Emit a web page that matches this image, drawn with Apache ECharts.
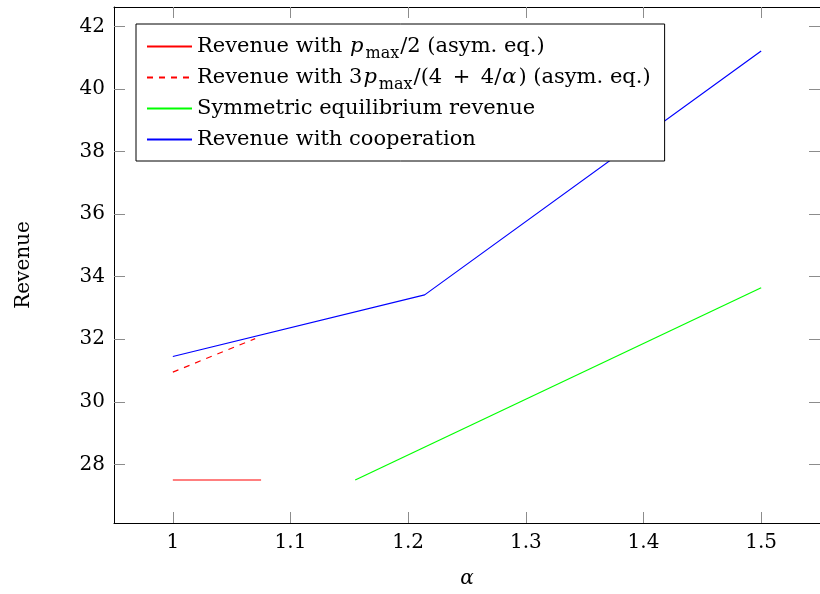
<!DOCTYPE html>
<html>
<head>
<meta charset="utf-8">
<script src="https://cdn.jsdelivr.net/npm/echarts@6/dist/echarts.min.js"></script>
<style>html,body{margin:0;padding:0;background:#fff;overflow:hidden;width:820px;height:594px}#c{width:820px;height:594px;overflow:hidden}</style>
</head>
<body>
<div id="c"></div>
<script>
// Data
const xTicks = [1, 1.1, 1.2, 1.3, 1.4, 1.5];
const yTicks = [28, 30, 32, 34, 36, 38, 40, 42];

const alphaHalf = [1, 1.075];
const revenueHalf = [27.5, 27.5];

const alphaThree = [1, 1.07];
const revenueThree = [30.95, 32.02];

const alphaSym = [1.155, 1.5];
const revenueSym = [27.5, 33.65];

const alphaCoop = [1, 1.214, 1.5];
const revenueCoop = [31.45, 33.42, 41.22];

const seriesNames = [
  'Revenue with pmax/2 (asym. eq.)',
  'Revenue with 3pmax/(4+4/alpha) (asym. eq.)',
  'Symmetric equilibrium revenue',
  'Revenue with cooperation'
];

const zip = (xs, ys) => xs.map((x, i) => [x, ys[i]]);

const FONT = 'DejaVu Serif';
const FS = 20;
const LFS = 21;

const legendRich = {
  n: { fontFamily: FONT, fontSize: LFS, color: '#000', lineHeight: 31 },
  it: { fontFamily: FONT, fontSize: LFS, fontStyle: 'italic', color: '#000', lineHeight: 31, padding: [0, 2, 0, 1] },
  sub: { fontFamily: FONT, fontSize: 16, color: '#000', lineHeight: 24, verticalAlign: 'bottom', padding: [0, 1, 0, 0] }
};

const legendText = {};
legendText[seriesNames[0]] = '{n|Revenue with }{it|p}{sub|max}{n|/2 (asym. eq.)}';
legendText[seriesNames[1]] = '{n|Revenue with 3}{it|p}{sub|max}{n|/(4\u2002+\u20024/}{it|α}{n|) (asym. eq.)}';
legendText[seriesNames[2]] = '{n|Symmetric equilibrium revenue}';
legendText[seriesNames[3]] = '{n|Revenue with cooperation}';

const chart = echarts.init(document.getElementById('c'), null, { renderer: 'canvas', width: 820, height: 594 });

const tickStyle = { show: true, inside: true, length: 11, lineStyle: { color: '#8c8c8c', width: 1 } };

const option = {
  animation: false,
  backgroundColor: '#fff',
  grid: { left: 114, right: -7, top: 7, bottom: 63, containLabel: false },
  xAxis: [
    {
      type: 'value', min: 0.95, max: 1.55, position: 'bottom',
      name: 'α', nameLocation: 'middle', nameGap: 46,
      nameTextStyle: { fontFamily: FONT, fontSize: FS, fontStyle: 'italic', color: '#000' },
      axisLine: { show: true, onZero: false, lineStyle: { color: '#000', width: 1 } },
      axisTick: Object.assign({ customValues: xTicks }, tickStyle),
      axisLabel: { customValues: xTicks, margin: 10, fontFamily: FONT, fontSize: FS, color: '#000',
        formatter: v => String(+v.toFixed(1)) },
      splitLine: { show: false }
    },
    {
      type: 'value', min: 0.95, max: 1.55, position: 'top',
      axisLine: { show: true, onZero: false, lineStyle: { color: '#000', width: 1 } },
      axisTick: Object.assign({ customValues: xTicks }, tickStyle),
      axisLabel: { show: false },
      splitLine: { show: false }
    }
  ],
  yAxis: [
    {
      type: 'value', min: 26.125, max: 42.625, position: 'left',
      name: 'Revenue', nameLocation: 'middle', nameGap: 80, nameRotate: 90,
      nameTextStyle: { fontFamily: FONT, fontSize: FS, color: '#000' },
      axisLine: { show: true, onZero: false, lineStyle: { color: '#000', width: 1 } },
      axisTick: Object.assign({ customValues: yTicks }, tickStyle),
      axisLabel: { customValues: yTicks, margin: 9, fontFamily: FONT, fontSize: FS, color: '#000' },
      splitLine: { show: false }
    },
    {
      type: 'value', min: 26.125, max: 42.625, position: 'right',
      axisLine: { show: true, onZero: false, lineStyle: { color: '#000', width: 1 } },
      axisTick: Object.assign({ customValues: yTicks }, tickStyle),
      axisLabel: { show: false },
      splitLine: { show: false }
    }
  ],
  legend: {
    orient: 'vertical', left: 136, top: 24,
    padding: [7, 14, 6, 10],
    itemWidth: 45, itemHeight: 14, itemGap: 0,
    backgroundColor: '#fff', borderColor: '#000', borderWidth: 1,
    itemStyle: { opacity: 0 },
    data: seriesNames,
    formatter: name => legendText[name],
    textStyle: { fontFamily: FONT, fontSize: LFS, color: '#000', lineHeight: 31, rich: legendRich }
  },
  series: [
    { name: seriesNames[0], type: 'line', data: zip(alphaHalf, revenueHalf), showSymbol: false, symbol: 'none',
      lineStyle: { color: '#ff0000', width: 1.2 }, itemStyle: { color: '#ff0000' } },
    { name: seriesNames[1], type: 'line', data: zip(alphaThree, revenueThree), showSymbol: false, symbol: 'none',
      lineStyle: { color: '#ff0000', width: 1.2, type: [6, 6] }, itemStyle: { color: '#ff0000' } },
    { name: seriesNames[2], type: 'line', data: zip(alphaSym, revenueSym), showSymbol: false, symbol: 'none',
      lineStyle: { color: '#00ff00', width: 1.2 }, itemStyle: { color: '#00ff00' } },
    { name: seriesNames[3], type: 'line', data: zip(alphaCoop, revenueCoop), showSymbol: false, symbol: 'none',
      lineStyle: { color: '#0000ff', width: 1.2 }, itemStyle: { color: '#0000ff' } }
  ]
};
chart.setOption(option);
</script>
</body>
</html>
